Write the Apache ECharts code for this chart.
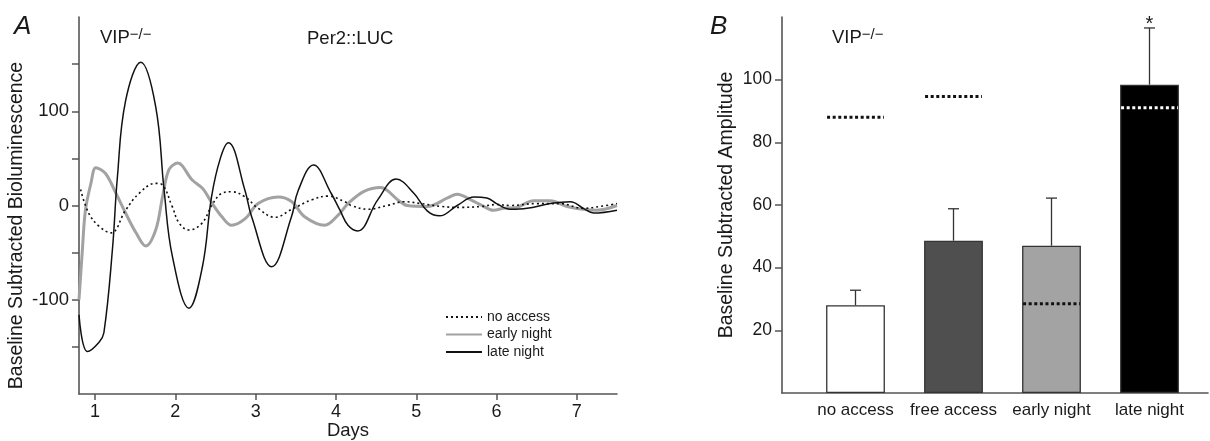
<!DOCTYPE html>
<html><head><meta charset="utf-8">
<script src="https://cdn.jsdelivr.net/npm/echarts@6/dist/echarts.min.js"></script>
<style>html,body{margin:0;padding:0;background:#fff}#c{width:1210px;height:441px}</style>
</head><body><div id="c"></div>
<script>
// ---- Panel A data (days, baseline subtracted bioluminescence) ----
const noAccessDays = [0.82,0.92,1.05,1.2,1.38,1.55,1.755,1.84,1.96,2.05,2.17,2.33,2.46,2.58,2.7,2.87,3.03,3.24,3.45,3.7,3.9,4.11,4.19,4.4,4.64,4.85,5.06,5.31,5.56,5.81,6.0,6.17,6.5,6.79,7.08,7.29,7.5];
const noAccessVals = [17,-8,-22,-29,-5,13,23.5,21.7,-1,-19,-26,-19,1,13,14.6,9,-3,-12.5,-4,6,10,4,0,-4,0,4,2,-1,-2,-1,1,0,2,2,-3,-1,2];

const earlyDays = [0.8,0.84,0.88,0.95,1.01,1.13,1.26,1.38,1.51,1.63,1.755,1.84,1.92,2.03,2.21,2.34,2.46,2.58,2.7,2.87,3.03,3.28,3.45,3.61,3.86,4.03,4.15,4.35,4.56,4.64,4.77,4.89,5.14,5.39,5.51,5.68,5.82,5.96,6.09,6.25,6.46,6.67,6.88,7.08,7.25,7.5];
const earlyVals = [-100,-50,-5,24,40,34,13,-8,-29,-43,-26,9,38,45,27,18,2,-12,-21,-14,2,9,4,-12,-21,-10,2,15,19,16,6,0,-1,8,12,6,0,-5,-3,-2,5,5,-1,-4,-5,0];

const lateDays = [0.8,0.905,1.05,1.11,1.216,1.278,1.38,1.57,1.755,1.86,1.963,2.17,2.337,2.45,2.56,2.66,2.867,2.95,3.2,3.446,3.53,3.72,3.94,4.05,4.15,4.27,4.52,4.75,4.97,5.14,5.29,5.51,5.72,5.88,6.0,6.17,6.38,6.67,6.92,7.08,7.21,7.5];
const lateVals = [-116,-155,-145,-135,-47,30,111,152,105,16,-54,-109,-65,9,50,66.5,16,-12,-65,-12,16,43,13,-5,-21,-27,6,28,13,-6,-11,0,9,8,2,-4,-3,2,4,-3,-8,-5];

const seriesNamesA = ['no access','early night','late night'];
const xTicksA = [1,2,3,4,5,6,7];
const yTicksA = [-150,-100,-50,0,50,100,150];
const yLabelsA = [-100,0,100];

// ---- Panel B data ----
const barCategories = ['no access','free access','early night','late night'];
const barMeans = [28, 48.6, 47, 98.4];
const barErrTop = [32.8, 58.8, 62.2, 116.5];
const refLevels = [88, 94.6, 28.5, 91];
const sigMarks = ['', '', '', '*'];
const yTicksB = [20,40,60,80,100];

const barColors = ['#ffffff','#4f4f4f','#a3a3a3','#000000'];
const refColors = ['#111111','#111111','#111111','#ffffff'];

const pairs = (xs, ys) => xs.map((x, i) => [x, ys[i]]);
const axisColor = '#555555';
const txt = '#1a1a1a';
const FONT = 'Liberation Sans, Arial, sans-serif';

const chart = echarts.init(document.getElementById('c'));
const option = {
  backgroundColor: '#ffffff',
  textStyle: { fontFamily: FONT, color: txt },
  animation: false,
  title: [
    { text: 'A', left: 9, top: 9, textStyle: { fontStyle: 'italic', fontWeight: 'normal', fontSize: 26, color: txt, fontFamily: FONT } },
    { text: 'VIP{s|−/−}', left: 95, top: 22, textStyle: { fontWeight: 'normal', fontSize: 18.5, color: txt, fontFamily: FONT, lineHeight: 22,
        rich: { s: { fontSize: 15, verticalAlign: 'top', lineHeight: 14, color: txt, fontFamily: FONT } } } },
    { text: 'Per2::LUC', left: 302, top: 24, textStyle: { fontWeight: 'normal', fontSize: 18.5, color: txt, fontFamily: FONT } },
    { text: 'B', left: 705, top: 9, textStyle: { fontStyle: 'italic', fontWeight: 'normal', fontSize: 26, color: txt, fontFamily: FONT } },
    { text: 'VIP{s|−/−}', left: 827, top: 22, textStyle: { fontWeight: 'normal', fontSize: 18.5, color: txt, fontFamily: FONT, lineHeight: 22,
        rich: { s: { fontSize: 15, verticalAlign: 'top', lineHeight: 14, color: txt, fontFamily: FONT } } } }
  ],
  legend: {
    data: seriesNamesA, orient: 'vertical', left: 440, top: 305,
    itemWidth: 36, itemHeight: 14, itemGap: 3.5,
    itemStyle: { opacity: 0 },
    textStyle: { fontSize: 14, color: txt, fontFamily: FONT }
  },
  grid: [
    { left: 79, top: 17, width: 538, height: 377, outerBoundsMode: 'none', containLabel: false },
    { left: 782, top: 17, width: 426, height: 376, outerBoundsMode: 'none', containLabel: false },
    { left: 806.5, top: 17, width: 392, height: 376, outerBoundsMode: 'none', containLabel: false }
  ],
  xAxis: [
    { gridIndex: 0, type: 'value', min: 0.8, max: 7.5,
      axisLine: { show: true, onZero: false, lineStyle: { color: axisColor, width: 1.6 } },
      axisTick: { show: true, customValues: xTicksA, length: 6, lineStyle: { color: axisColor, width: 1.5 } },
      axisLabel: { customValues: xTicksA, fontSize: 18, color: txt, margin: 9, fontFamily: FONT },
      splitLine: { show: false },
      name: 'Days', nameLocation: 'middle', nameGap: 27, nameMoveOverlap: false,
      nameTextStyle: { fontSize: 18.5, lineHeight: 20, color: txt, fontFamily: FONT } },
    { gridIndex: 1, type: 'value', min: 0, max: 1,
      axisLine: { show: true, onZero: false, lineStyle: { color: axisColor, width: 1.6 } },
      axisTick: { show: false }, axisLabel: { show: false }, splitLine: { show: false } },
    { gridIndex: 2, type: 'category', data: barCategories,
      axisLine: { show: false }, axisTick: { show: false },
      axisLabel: { interval: 0, fontSize: 17, color: txt, margin: 9, fontFamily: FONT },
      splitLine: { show: false } }
  ],
  yAxis: [
    { gridIndex: 0, type: 'value', min: -200, max: 200,
      axisLine: { show: true, onZero: false, lineStyle: { color: axisColor, width: 1.6 } },
      axisTick: { show: true, customValues: yTicksA, length: 7, lineStyle: { color: axisColor, width: 1.5 } },
      axisLabel: { customValues: yLabelsA, fontSize: 18.5, color: txt, margin: 10, fontFamily: FONT },
      splitLine: { show: false },
      name: 'Baseline Subtracted Bioluminescence', nameLocation: 'middle', nameGap: 52, nameMoveOverlap: false,
      nameTextStyle: { fontSize: 19.5, color: txt, fontFamily: FONT, padding: [0, 40, 0, 0] } },
    { gridIndex: 1, type: 'value', min: 0, max: 120,
      axisLine: { show: true, onZero: false, lineStyle: { color: axisColor, width: 1.6 } },
      axisTick: { show: true, customValues: yTicksB, length: 7, lineStyle: { color: axisColor, width: 1.5 } },
      axisLabel: { customValues: yTicksB, fontSize: 17.5, color: txt, margin: 10, fontFamily: FONT },
      splitLine: { show: false },
      name: 'Baseline Subtracted Amplitude', nameLocation: 'middle', nameGap: 45, nameMoveOverlap: false,
      nameTextStyle: { fontSize: 19.5, color: txt, fontFamily: FONT } },
    { gridIndex: 2, type: 'value', min: 0, max: 120, show: false }
  ],
  series: [
    { name: 'no access', type: 'line', xAxisIndex: 0, yAxisIndex: 0, data: pairs(noAccessDays, noAccessVals),
      symbol: 'none', smooth: 0.4, lineStyle: { color: '#111', width: 1.6, type: [2, 3] }, itemStyle: { color: '#111' }, z: 4 },
    { name: 'early night', type: 'line', xAxisIndex: 0, yAxisIndex: 0, data: pairs(earlyDays, earlyVals),
      symbol: 'none', smooth: 0.35, lineStyle: { color: '#a2a2a2', width: 3 }, itemStyle: { color: '#a2a2a2' }, z: 2 },
    { name: 'late night', type: 'line', xAxisIndex: 0, yAxisIndex: 0, data: pairs(lateDays, lateVals),
      symbol: 'none', smooth: 0.4, lineStyle: { color: '#111', width: 1.5 }, itemStyle: { color: '#111' }, z: 3 },
    { type: 'bar', xAxisIndex: 2, yAxisIndex: 2, barWidth: '60%',
      data: barMeans.map((v, i) => ({ value: v, itemStyle: { color: barColors[i], borderColor: '#333', borderWidth: 1.3 } })), z: 2 },
    { type: 'custom', xAxisIndex: 2, yAxisIndex: 2, z: 3,
      data: barMeans.map((m, i) => [i, m, barErrTop[i]]),
      encode: { x: 0, y: [1, 2] },
      renderItem: function (params, api) {
        const i = api.value(0);
        const p0 = api.coord([i, api.value(1)]);
        const p1 = api.coord([i, api.value(2)]);
        const children = [
          { type: 'line', shape: { x1: p0[0], y1: p0[1], x2: p1[0], y2: p1[1] }, style: { stroke: '#333', lineWidth: 1.3 } },
          { type: 'line', shape: { x1: p1[0] - 5.5, y1: p1[1], x2: p1[0] + 5.5, y2: p1[1] }, style: { stroke: '#333', lineWidth: 1.3 } }
        ];
        const s = sigMarks[i];
        if (s) children.push({ type: 'text', style: { text: s, x: p1[0], y: p1[1] - 3, align: 'center', verticalAlign: 'middle', fontSize: 20, fill: txt, fontFamily: FONT } });
        return { type: 'group', children: children };
      } },
    { type: 'custom', xAxisIndex: 2, yAxisIndex: 2, z: 4,
      data: refLevels.map((v, i) => [i, v]),
      renderItem: function (params, api) {
        const i = api.value(0);
        const p = api.coord([i, api.value(1)]);
        const half = api.size([1, 0])[0] * 0.29;
        return { type: 'line', shape: { x1: p[0] - half, y1: p[1], x2: p[0] + half, y2: p[1] },
          style: { stroke: refColors[i], lineWidth: 3, lineDash: [3, 2.6] } };
      } }
  ]
};
chart.setOption(option);
</script></body></html>
